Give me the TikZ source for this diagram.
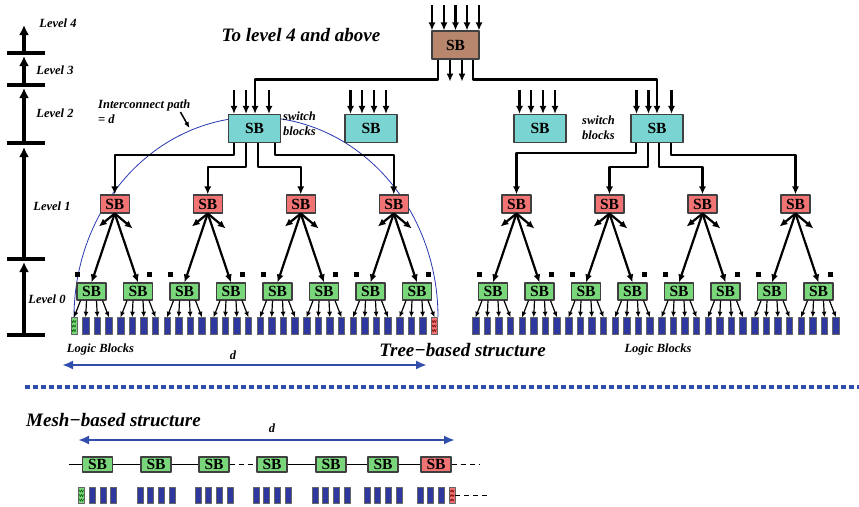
\documentclass[tikz,border=0pt]{standalone}
\usepackage{fontspec}
\setmainfont{Liberation Serif}
\usepackage{xcolor}
\usepackage{tikz}
\usetikzlibrary{calc, positioning, arrows.meta}
\definecolor{sbbrown}{RGB}{184,134,108}
\definecolor{sbcyan}{RGB}{122,212,210}
\definecolor{sbred}{RGB}{242,115,115}
\definecolor{sbgreen}{RGB}{122,214,122}
\definecolor{lbblue}{RGB}{46,56,158}
\definecolor{dblue}{RGB}{50,78,172}
\definecolor{arcblue}{RGB}{40,55,175}

\tikzset{
  sb/.style={draw=black!75, line width=1.1pt, inner sep=0pt, font=\fontsize{15.5}{15.5}\selectfont\bfseries},
  sbtop/.style={sb, fill=sbbrown, minimum width=47pt, minimum height=28pt},
  sbtwo/.style={sb, fill=sbcyan, minimum width=52pt, minimum height=28pt},
  sbone/.style={sb, fill=sbred, minimum width=29pt, minimum height=18pt},
  sbzero/.style={sb, fill=sbgreen, minimum width=29pt, minimum height=17pt},
  sbmesh/.style={sb, fill=sbgreen, minimum width=30pt, minimum height=15pt},
  lblock/.style={draw=black!60, line width=0.5pt, fill=lbblue, minimum width=6.5pt, minimum height=17pt, inner sep=0pt},
  lbmesh/.style={lblock, minimum width=6pt, minimum height=16pt},
  wire/.style={line width=2.2pt, -{Latex[length=8pt, width=7pt]}},
  leaf/.style={line width=1.2pt, -{Latex[length=5.5pt, width=5pt]}},
  meshline/.style={line width=0.9pt},
  meshdash/.style={line width=0.9pt, dash pattern=on 5pt off 4pt},
  lbl/.style={font=\fontsize{12.5}{14.5}\selectfont\bfseries\itshape, inner sep=0pt},
  big/.style={font=\fontsize{19}{21}\selectfont\bfseries\itshape, inner sep=0pt},
  darrow/.style={dblue, line width=2.5pt, {Latex[length=11pt, width=9pt]}-{Latex[length=11pt, width=9pt]}},
}

% hoa văn trong khối logic đặc biệt
\newcommand{\lbzig}[2]{%
  \foreach \r in {0,1,2}
    \draw[#2, line width=0.5pt] ($(#1.north west)+(1,3+4.5*\r)$) -- ++(1.1,2.5) -- ++(1.1,-2.5) -- ++(1.1,2.5) -- ++(1.1,-2.5);
}

\begin{document}
\begin{tikzpicture}[x=1pt, y=-1pt, line join=round, >=Latex]
    \useasboundingbox (0,0) rectangle (859,506);

    % Thang mức bên trái
    \foreach \ya/\yb in {335/262, 259/147, 143/88, 85/56, 53/25}
        \draw[line width=4pt, -{Latex[length=10pt, width=10pt]}] (24,\ya) -- (24,\yb);
    \foreach \yt in {53, 85, 143, 259, 335}
        \draw[line width=3.5pt] (7,\yt) -- (45,\yt);
    \node[lbl] (lv4) at (58,23) {Level 4};
    \node[lbl] (lv3) at (55,70) {Level 3};
    \node[lbl] (lv2) at (55,113) {Level 2};
    \node[lbl] (lv1) at (52,206) {Level 1};
    \node[lbl] (lv0) at (47,299) {Level 0};

    % Đường nối (interconnect path)
    \draw[arcblue, line width=0.8pt, domain=180:360, samples=90]
        plot ({256+182*cos(\x)}, {317+200*sin(\x)});

    % Các khối SB
    \node[sbtop] (sbt) at (455.5,45) {SB};
    \node[sbtwo] (sba) at (254.5,128.5) {SB};
    \node[sbtwo] (sbb) at (371,128.5) {SB};
    \node[sbtwo] (sbc) at (540,128.5) {SB};
    \node[sbtwo] (sbd) at (657,128.5) {SB};
    \foreach \h in {0,1} {
        \foreach \k in {0,...,3}
            \node[sbone] (r-\h-\k) at ({114.75+93*\k+401.75*\h}, 204) {SB};
        \foreach \j in {0,...,7}
            \node[sbzero] (g-\h-\j) at ({91.5+46.5*\j+401.5*\h}, 291.5) {SB};
    }

    % Khối logic
    \foreach \h in {0,1}
        \foreach \m in {0,...,31} {
            \def\lbfill{lbblue}
            \ifnum\h=0 \ifnum\m=0 \def\lbfill{sbgreen}\fi \ifnum\m=31 \def\lbfill{sbred}\fi \fi
            \node[lblock, fill=\lbfill] (lb-\h-\m) at ({74.1+11.625*\m+401.5*\h}, 326) {};
        }
    \lbzig{lb-0-0}{green!35!black}
    \lbzig{lb-0-31}{red!45!black}

    % Mức 4 -> mức 2
    \foreach \dx in {-23.5,-11.5,0,11.5,23.5}
        \draw[wire] ($(sbt.north)+(\dx,-25)$) -- ++(0,25);
    \foreach \dx in {-5.5,6.5}
        \draw[wire] ($(sbt.south)+(\dx,0)$) -- ++(0,22);
    \draw[wire] ($(sbt.south)+(-17.5,0)$) -- ++(0,20) -| ($(sba.north)+(0.5,0)$);
    \draw[wire] ($(sbt.south)+(17.5,0)$) -- ++(0,20) -| (sbd.north);

    % Đầu vào mức 2
    \foreach \n in {sba, sbd}
        \foreach \dx in {-20.5,-8.5,14.5}
            \draw[wire] ($(\n.north)+(\dx,-24)$) -- ++(0,24);
    \foreach \n in {sbb, sbc}
        \foreach \dx in {-20.5,-9,3,15}
            \draw[wire] ($(\n.north)+(\dx,-24)$) -- ++(0,24);

    % Mức 2 -> mức 1
    \foreach \dx/\dy/\k in {-20.5/12/0, -8.5/24/1, 3.5/24/2, 20.5/12/3}
        \draw[wire] ($(sba.south)+(\dx,0)$) -- ++(0,\dy) -| (r-0-\k.north);
    \foreach \dx/\dy/\k in {-21/10/0, -9/24/1, 2/24/2, 14/12/3}
        \draw[wire] ($(sbd.south)+(\dx,0)$) -- ++(0,\dy) -| (r-1-\k.north);

    % Mức 1 -> mức 0
    \foreach \h in {0,1}
        \foreach \k in {0,...,3} {
            \pgfmathtruncatemacro\ja{2*\k}
            \pgfmathtruncatemacro\jb{2*\k+1}
            \draw[wire] (r-\h-\k.south) -- (g-\h-\ja.north);
            \draw[wire] (r-\h-\k.south) -- (g-\h-\jb.north);
            \draw[wire] (r-\h-\k.south) -- ++(-16,13);
            \draw[wire] (r-\h-\k.south) -- ++(18,15);
            \fill ($(g-\h-\ja.north west)+(-1,-10)$) rectangle ++(5,5);
            \fill ($(g-\h-\jb.north east)+(-6,-10)$) rectangle ++(5,5);
        }

    % Mức 0 -> khối logic
    \foreach \h in {0,1}
        \foreach \j in {0,...,7}
            \foreach \i/\dx in {0/-11,1/-5,2/5,3/11} {
                \pgfmathtruncatemacro\m{4*\j+\i}
                \draw[leaf] ($(g-\h-\j.south)+(\dx,0)$) -- (lb-\h-\m.north);
            }

    % Chữ
    \node[big] (ttl) at (301,35) {To level 4 and above};
    \node[lbl, anchor=west, align=left] (ipath) at (98,111.5) {Interconnect path\\= d};
    \draw[line width=1.5pt, -{Latex[length=6pt, width=5pt]}] ($(ipath.east)+(-10,0.5)$) -- ++(9,16);
    \node[lbl, anchor=west, align=left] (swa) at (283,123.5) {switch\\blocks};
    \node[lbl, anchor=west, align=left] (swb) at (582,127.5) {switch\\blocks};
    \node[lbl] (lbla) at (100.5,349) {Logic Blocks};
    \node[lbl] (lblb) at (658,349) {Logic Blocks};
    \node[big] (tree) at (462.5,350) {Tree−based structure};
    \draw[darrow] (62,365) -- (427,365);
    \node[lbl] (dtree) at (233,355) {d};

    % Đường phân cách
    \draw[dblue, line width=4.5pt, dash pattern=on 4.5pt off 3.5pt] (25,387) -- (859,387);

    % Cấu trúc lưới
    \node[big] (mesh) at (113.5,420) {Mesh−based structure};
    \draw[darrow] (78,440) -- (455,440);
    \node[lbl] (dmesh) at (272,428) {d};
    \foreach \c [count=\i] in {97.5,156,214,272,331,383,436} {
        \def\sbfill{sbgreen}
        \ifnum\i=7 \def\sbfill{sbred}\fi
        \node[sbmesh, fill=\sbfill] (m\i) at (\c,464.5) {SB};
        \foreach \d [count=\q] in {-16,-5.5,5.5,16} {
            \def\lbfill{lbblue}
            \ifnum\i=1 \ifnum\q=1 \def\lbfill{sbgreen}\fi \fi
            \ifnum\i=7 \ifnum\q=4 \def\lbfill{sbred}\fi \fi
            \node[lbmesh, fill=\lbfill] (mb-\i-\q) at (\c+\d,495) {};
        }
    }
    \lbzig{mb-1-1}{green!35!black}
    \lbzig{mb-7-4}{red!45!black}
    \coordinate (mstart) at (69,464.5);
    \coordinate (mend) at (480,464.5);
    \coordinate (mbend) at (488,495);
    \draw[meshline] (mstart) -- (m1) -- (m2) -- (m3);
    \draw[meshdash] (m3) -- (m4);
    \draw[meshline] (m4) -- (m5) -- (m6) -- (m7);
    \draw[meshdash] (m7) -- (mend);
    \draw[meshdash] (mb-7-4) -- (mbend);
\end{tikzpicture}
\end{document}
